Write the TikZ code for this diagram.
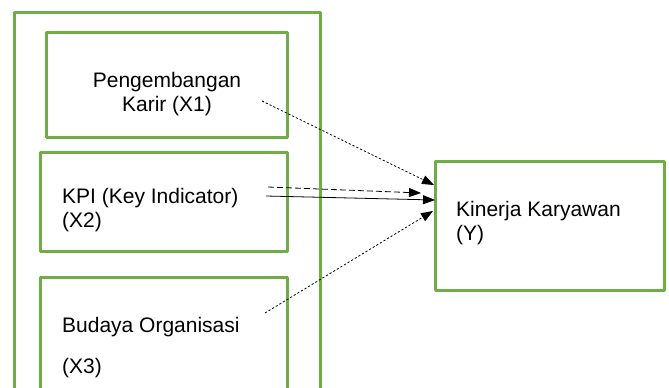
\documentclass[tikz,border=0pt]{standalone}
\usepackage{fontspec}
\setmainfont{Liberation Sans}
\usetikzlibrary{arrows.meta}
\definecolor{boxgreen}{HTML}{70AD47}
\tikzset{
  gbox/.style={draw=boxgreen, line width=3pt, line join=round},
  lbl/.style={inner sep=0pt, anchor=base west, font=\fontsize{21}{25}\selectfont},
  clbl/.style={inner sep=0pt, anchor=base, font=\fontsize{21}{25}\selectfont},
  conn/.style={draw=black, line width=0.8pt, -{Triangle[length=12pt,width=9pt]}},
  dotl/.style={dash pattern=on 2.2pt off 2pt},
  dashl/.style={dash pattern=on 6pt off 3pt}
}
\begin{document}
\begin{tikzpicture}[x=1pt,y=-1pt]
\useasboundingbox (0,0) rectangle (669,388);
% outer box (open at bottom)
\draw[gbox] (14,392) -- (14,12) -- (320,12) -- (320,392);
% X1 box
\draw[gbox] (46,32) rectangle (287,137);
% X2 box
\draw[gbox] (40,152) rectangle (287,251);
% X3 box (open at bottom)
\draw[gbox] (40,392) -- (40,277) -- (287,277) -- (287,392);
% Y box
\draw[gbox] (435,161) rectangle (664,290);
% texts
\node[clbl] (x1a) at (167,87) {Pengembangan};
\node[clbl] (x1b) at (167,111) {Karir (X1)};
\node[lbl] (x2a) at (62,203) {KPI (Key Indicator)};
\node[lbl] (x2b) at (62,227) {(X2)};
\node[lbl] (x3a) at (62,332) {Budaya Organisasi};
\node[lbl] (x3b) at (62,373) {(X3)};
\node[lbl] (ya) at (456,216) {Kinerja Karyawan};
\node[lbl] (yb) at (456,240) {(Y)};
% connector endpoints
\coordinate (s1) at (262,101);
\coordinate (e1) at (434,185);
\coordinate (s2) at (268,187);
\coordinate (e2) at (421,193);
\coordinate (s3) at (266,196);
\coordinate (e3) at (435,200);
\coordinate (s4) at (265,313);
\coordinate (e4) at (433,211);
\draw[conn,dotl] (s1) -- (e1);
\draw[conn,dashl] (s2) -- (e2);
\draw[conn] (s3) -- (e3);
\draw[conn,dotl] (s4) -- (e4);
\end{tikzpicture}
\end{document}
